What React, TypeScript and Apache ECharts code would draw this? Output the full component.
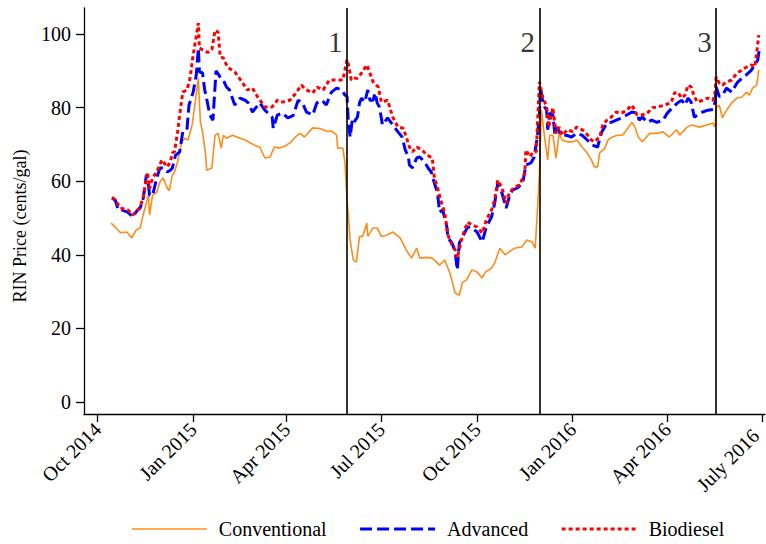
import React, { useEffect, useRef } from 'react';
import * as echarts from 'echarts';

const FONT = '"Liberation Serif", "Times New Roman", serif';
const ORANGE = '#FF8C1A';
const BLUE = '#0000FF';
const RED = '#FF0000';

const X_MIN = '2014-09-18';
const X_MAX = '2016-07-04';
const Y_MIN = -3.26;
const Y_MAX = 107.07;
const yTicks = [0, 20, 40, 60, 80, 100];
const xTickDates = ['2014-10-01', '2015-01-01', '2015-04-01', '2015-07-01', '2015-10-01', '2016-01-01', '2016-04-01', '2016-07-01'];
const xTickLabels = ['Oct 2014', 'Jan 2015', 'Apr 2015', 'Jul 2015', 'Oct 2015', 'Jan 2016', 'Apr 2016', 'July 2016'];
const eventDates = ['2015-05-29', '2015-11-30', '2016-05-18'];
const eventLabels = ['1', '2', '3'];
const EVENT_LABEL_Y = 97.8;
const seriesNames = ['Conventional', 'Advanced', 'Biodiesel'];

const conventional: [string, number][] = [
  ['2014-10-14', 48.6], ['2014-10-19', 47.3], ['2014-10-23', 46.0], ['2014-10-29', 46.2], ['2014-11-03', 44.6],
  ['2014-11-07', 46.7], ['2014-11-11', 47.3], ['2014-11-14', 51], ['2014-11-17', 54], ['2014-11-19', 56.2],
  ['2014-11-20', 50.8], ['2014-11-23', 56.2], ['2014-11-27', 57], ['2014-11-30', 59.8], ['2014-12-03', 60.9],
  ['2014-12-07', 58.2], ['2014-12-09', 57.4], ['2014-12-12', 61.7], ['2014-12-14', 62.5], ['2014-12-17', 65.2],
  ['2014-12-21', 70.7], ['2014-12-24', 71.7], ['2014-12-27', 71.2], ['2014-12-31', 75.3], ['2015-01-03', 81.5],
  ['2015-01-05', 86], ['2015-01-06', 88], ['2015-01-07', 81.5], ['2015-01-08', 76], ['2015-01-10', 73.4],
  ['2015-01-13', 67], ['2015-01-14', 63], ['2015-01-19', 63.6], ['2015-01-22', 72.5], ['2015-01-25', 73],
  ['2015-01-28', 69], ['2015-01-30', 72.5], ['2015-02-02', 71.7], ['2015-02-08', 72.5], ['2015-02-15', 71.7],
  ['2015-02-20', 71.2], ['2015-02-25', 70.4], ['2015-03-01', 69.8], ['2015-03-06', 69.3], ['2015-03-11', 66.3],
  ['2015-03-16', 66.6], ['2015-03-20', 69.3], ['2015-03-25', 69], ['2015-03-30', 69.5], ['2015-04-04', 70.4],
  ['2015-04-11', 72.5], ['2015-04-14', 73], ['2015-04-18', 72], ['2015-04-26', 74.5], ['2015-05-03', 74.3],
  ['2015-05-10', 73.5], ['2015-05-14', 73.7], ['2015-05-19', 72.5], ['2015-05-20', 69], ['2015-05-25', 69],
  ['2015-05-27', 65], ['2015-05-29', 55], ['2015-06-01', 44], ['2015-06-04', 38.6], ['2015-06-07', 38],
  ['2015-06-10', 45], ['2015-06-13', 45], ['2015-06-17', 48.6], ['2015-06-18', 45], ['2015-06-23', 47.3],
  ['2015-06-27', 47.3], ['2015-07-01', 45], ['2015-07-06', 45.3], ['2015-07-12', 46.2], ['2015-07-19', 44.6],
  ['2015-07-25', 41.3], ['2015-07-30', 39.1], ['2015-08-04', 41.8], ['2015-08-07', 39.1], ['2015-08-14', 39.3],
  ['2015-08-19', 39.1], ['2015-08-26', 37.2], ['2015-08-31', 38.6], ['2015-09-05', 35], ['2015-09-10', 29.6],
  ['2015-09-14', 29], ['2015-09-17', 32.5], ['2015-09-21', 33.2], ['2015-09-26', 35.9], ['2015-10-01', 35.3],
  ['2015-10-06', 33.7], ['2015-10-09', 35.3], ['2015-10-15', 36.4], ['2015-10-18', 37.8], ['2015-10-23', 41.8],
  ['2015-10-28', 40], ['2015-11-01', 40.8], ['2015-11-06', 41.8], ['2015-11-13', 42.1], ['2015-11-18', 44],
  ['2015-11-23', 43.5], ['2015-11-26', 41.8], ['2015-11-28', 51.4], ['2015-11-30', 62], ['2015-12-02', 79.3],
  ['2015-12-05', 72], ['2015-12-08', 65.8], ['2015-12-10', 72.5], ['2015-12-13', 72.5], ['2015-12-16', 66.3],
  ['2015-12-19', 73], ['2015-12-22', 71.2], ['2015-12-27', 70.7], ['2016-01-01', 70.7], ['2016-01-05', 71.2],
  ['2016-01-10', 69.3], ['2016-01-15', 67.7], ['2016-01-19', 65.8], ['2016-01-22', 63.9], ['2016-01-25', 63.9],
  ['2016-01-27', 67.7], ['2016-02-01', 69], ['2016-02-04', 71.2], ['2016-02-08', 72], ['2016-02-13', 72.5],
  ['2016-02-18', 72.5], ['2016-02-22', 74], ['2016-02-27', 76], ['2016-03-01', 74.7], ['2016-03-04', 72],
  ['2016-03-08', 70.7], ['2016-03-12', 72], ['2016-03-15', 73], ['2016-03-22', 73], ['2016-03-28', 73.4],
  ['2016-04-03', 72], ['2016-04-10', 74], ['2016-04-13', 72.5], ['2016-04-20', 74.7], ['2016-04-25', 75.3],
  ['2016-05-02', 74.7], ['2016-05-09', 75.3], ['2016-05-15', 75.8], ['2016-05-17', 74.7], ['2016-05-18', 80],
  ['2016-05-21', 80.7], ['2016-05-24', 77.2], ['2016-05-28', 79.3], ['2016-06-02', 81.3], ['2016-06-07', 82.6],
  ['2016-06-12', 82.9], ['2016-06-16', 84.2], ['2016-06-19', 83.4], ['2016-06-22', 85.3], ['2016-06-26', 86.1],
  ['2016-06-28', 90.2],
];

const advanced: [string, number][] = [
  ['2014-10-15', 55.4], ['2014-10-18', 54.9], ['2014-10-21', 52.2], ['2014-10-24', 52.2], ['2014-10-30', 51.6],
  ['2014-11-04', 50.3], ['2014-11-08', 52.0], ['2014-11-11', 52.7], ['2014-11-14', 55.4], ['2014-11-17', 61.7],
  ['2014-11-19', 59], ['2014-11-20', 56.2], ['2014-11-23', 56.2], ['2014-11-27', 60.9], ['2014-11-30', 63.6],
  ['2014-12-03', 63.6], ['2014-12-07', 62.5], ['2014-12-10', 63], ['2014-12-12', 63.6], ['2014-12-15', 67],
  ['2014-12-19', 68], ['2014-12-22', 73.4], ['2014-12-26', 74], ['2014-12-28', 80.7], ['2015-01-01', 84.2],
  ['2015-01-04', 88.9], ['2015-01-06', 96.2], ['2015-01-07', 89.7], ['2015-01-10', 89.4], ['2015-01-12', 85],
  ['2015-01-15', 81], ['2015-01-17', 78], ['2015-01-20', 76.6], ['2015-01-23', 90], ['2015-01-27', 88.3],
  ['2015-01-30', 87.5], ['2015-02-02', 85.6], ['2015-02-05', 84.8], ['2015-02-10', 80.7], ['2015-02-15', 82.6],
  ['2015-02-20', 82], ['2015-02-23', 81.3], ['2015-02-27', 78.8], ['2015-03-06', 81.3], ['2015-03-11', 79.3],
  ['2015-03-18', 77.4], ['2015-03-19', 74.4], ['2015-03-23', 78], ['2015-03-28', 78.5], ['2015-04-02', 77.2],
  ['2015-04-07', 77.8], ['2015-04-12', 82], ['2015-04-16', 81.3], ['2015-04-20', 78.8], ['2015-04-26', 78],
  ['2015-04-30', 81.3], ['2015-05-05', 82], ['2015-05-09', 80.7], ['2015-05-14', 84.2], ['2015-05-19', 85.3],
  ['2015-05-24', 84.8], ['2015-05-27', 83.4], ['2015-05-29', 83], ['2015-05-30', 77.4], ['2015-06-01', 72],
  ['2015-06-03', 76.6], ['2015-06-04', 75.8], ['2015-06-08', 77.4], ['2015-06-10', 81.3], ['2015-06-12', 82.6],
  ['2015-06-15', 81.5], ['2015-06-18', 84.8], ['2015-06-20', 82], ['2015-06-23', 82], ['2015-06-25', 84],
  ['2015-06-27', 81.3], ['2015-06-29', 80.2], ['2015-07-01', 77.2], ['2015-07-02', 75.3], ['2015-07-07', 77.2],
  ['2015-07-12', 75.3], ['2015-07-17', 73.4], ['2015-07-21', 72], ['2015-07-24', 68.5], ['2015-07-27', 66.6],
  ['2015-07-28', 64.4], ['2015-07-31', 63.6], ['2015-08-04', 66.3], ['2015-08-07', 66.6], ['2015-08-12', 65],
  ['2015-08-15', 63.6], ['2015-08-18', 62.5], ['2015-08-21', 59.5], ['2015-08-24', 56.8], ['2015-08-26', 51.6],
  ['2015-08-29', 52.2], ['2015-09-02', 47.6], ['2015-09-03', 44.6], ['2015-09-07', 43.2], ['2015-09-10', 40.8],
  ['2015-09-12', 35.9], ['2015-09-14', 43.2], ['2015-09-17', 44.8], ['2015-09-22', 47.6], ['2015-09-26', 47.3],
  ['2015-10-01', 46.2], ['2015-10-06', 43.5], ['2015-10-10', 47.6], ['2015-10-15', 50.3], ['2015-10-18', 54],
  ['2015-10-21', 59.5], ['2015-10-25', 56.8], ['2015-10-29', 52.7], ['2015-11-01', 55.7], ['2015-11-04', 57.6],
  ['2015-11-09', 58.2], ['2015-11-14', 59.5], ['2015-11-17', 64.4], ['2015-11-22', 65], ['2015-11-25', 66.6],
  ['2015-11-28', 72], ['2015-11-30', 78], ['2015-12-01', 85.6], ['2015-12-03', 82], ['2015-12-05', 80.2],
  ['2015-12-07', 79.3], ['2015-12-08', 74], ['2015-12-10', 78.5], ['2015-12-13', 78], ['2015-12-15', 72.5],
  ['2015-12-17', 74.7], ['2015-12-21', 72.5], ['2015-12-26', 72.5], ['2015-12-31', 72], ['2016-01-05', 73],
  ['2016-01-10', 72.5], ['2016-01-15', 71.2], ['2016-01-20', 69.8], ['2016-01-25', 69.3], ['2016-01-29', 73.4],
  ['2016-02-03', 75.8], ['2016-02-07', 76], ['2016-02-12', 76.6], ['2016-02-17', 77.2], ['2016-02-22', 78],
  ['2016-02-27', 78.8], ['2016-03-03', 78.5], ['2016-03-05', 76.6], ['2016-03-08', 77.4], ['2016-03-13', 76],
  ['2016-03-17', 76.6], ['2016-03-22', 76], ['2016-03-28', 76.6], ['2016-04-01', 78.5], ['2016-04-06', 80],
  ['2016-04-11', 81.3], ['2016-04-15', 82], ['2016-04-18', 80.7], ['2016-04-21', 82.6], ['2016-04-24', 81.5],
  ['2016-04-27', 77.4], ['2016-04-30', 78], ['2016-05-05', 78.8], ['2016-05-10', 79.3], ['2016-05-15', 79.5],
  ['2016-05-17', 81.5], ['2016-05-18', 85.6], ['2016-05-21', 83], ['2016-05-24', 83.4], ['2016-05-28', 85.3],
  ['2016-06-02', 84.2], ['2016-06-07', 86.7], ['2016-06-12', 88], ['2016-06-16', 88.9], ['2016-06-21', 90.2],
  ['2016-06-24', 91.6], ['2016-06-27', 92.9], ['2016-06-29', 96.7],
];

const biodiesel: [string, number][] = [
  ['2014-10-15', 55.7], ['2014-10-18', 54.9], ['2014-10-23', 52.7], ['2014-10-30', 52.2], ['2014-11-04', 50.8],
  ['2014-11-11', 53], ['2014-11-14', 55.7], ['2014-11-18', 62.5], ['2014-11-20', 58], ['2014-11-23', 60.9],
  ['2014-11-27', 62.5], ['2014-12-02', 65.8], ['2014-12-07', 63.9], ['2014-12-10', 65.2], ['2014-12-12', 67.7],
  ['2014-12-14', 68], ['2014-12-17', 73.4], ['2014-12-19', 78], ['2014-12-22', 84.2], ['2014-12-26', 84.8],
  ['2014-12-29', 88], ['2015-01-01', 94.3], ['2015-01-06', 103], ['2015-01-07', 96.2], ['2015-01-10', 95.7],
  ['2015-01-15', 95], ['2015-01-19', 95.7], ['2015-01-22', 101], ['2015-01-25', 100.5], ['2015-01-27', 93.8],
  ['2015-01-30', 93.5], ['2015-02-03', 91], ['2015-02-10', 89.7], ['2015-02-17', 87], ['2015-02-22', 84.8],
  ['2015-02-27', 85.3], ['2015-03-04', 82.9], ['2015-03-11', 80.2], ['2015-03-18', 80.2], ['2015-03-23', 82],
  ['2015-03-28', 81.5], ['2015-04-04', 82], ['2015-04-10', 84], ['2015-04-15', 86.1], ['2015-04-20', 84.8],
  ['2015-04-26', 84], ['2015-04-30', 85.6], ['2015-05-06', 84.8], ['2015-05-12', 87.5], ['2015-05-19', 87.5],
  ['2015-05-25', 87.5], ['2015-05-29', 93], ['2015-05-31', 91], ['2015-06-02', 87.5], ['2015-06-05', 88],
  ['2015-06-08', 88], ['2015-06-12', 89.4], ['2015-06-17', 91.6], ['2015-06-20', 89.4], ['2015-06-23', 87],
  ['2015-06-28', 85.6], ['2015-07-01', 81.5], ['2015-07-07', 82], ['2015-07-12', 77.4], ['2015-07-17', 74.7],
  ['2015-07-22', 74.4], ['2015-07-25', 72], ['2015-07-28', 69.3], ['2015-07-31', 68], ['2015-08-04', 69.3],
  ['2015-08-09', 68.5], ['2015-08-14', 67.1], ['2015-08-19', 66.3], ['2015-08-21', 60.9], ['2015-08-24', 58.2],
  ['2015-08-28', 54], ['2015-08-31', 51.4], ['2015-09-03', 45.4], ['2015-09-07', 42.7], ['2015-09-10', 41.3],
  ['2015-09-12', 39.1], ['2015-09-16', 44], ['2015-09-19', 46.7], ['2015-09-22', 48.9], ['2015-09-26', 48.1],
  ['2015-10-01', 47.6], ['2015-10-06', 45.9], ['2015-10-10', 49.5], ['2015-10-15', 52.2], ['2015-10-18', 54.9],
  ['2015-10-21', 60.3], ['2015-10-25', 58.2], ['2015-10-29', 54], ['2015-11-01', 56.8], ['2015-11-06', 58.4],
  ['2015-11-11', 59], ['2015-11-16', 62.2], ['2015-11-17', 68.5], ['2015-11-21', 66.6], ['2015-11-24', 68],
  ['2015-11-27', 68], ['2015-11-30', 87], ['2015-12-03', 83], ['2015-12-07', 80.2], ['2015-12-09', 74.7],
  ['2015-12-13', 80], ['2015-12-16', 73], ['2015-12-19', 74.7], ['2015-12-22', 72.5], ['2015-12-27', 74],
  ['2016-01-01', 73.5], ['2016-01-05', 74.7], ['2016-01-10', 74], ['2016-01-13', 73.4], ['2016-01-19', 71.2],
  ['2016-01-22', 70.7], ['2016-01-27', 72], ['2016-01-30', 75.3], ['2016-02-03', 76.6], ['2016-02-07', 77.4],
  ['2016-02-12', 78.8], ['2016-02-17', 78.5], ['2016-02-22', 79.3], ['2016-02-27', 80.7], ['2016-03-03', 78],
  ['2016-03-07', 78], ['2016-03-12', 78.3], ['2016-03-18', 80], ['2016-03-23', 80.2], ['2016-03-30', 80.7],
  ['2016-04-05', 81.5], ['2016-04-08', 84], ['2016-04-11', 84.2], ['2016-04-15', 82.6], ['2016-04-18', 83.4],
  ['2016-04-21', 86.1], ['2016-04-24', 85.6], ['2016-04-27', 83], ['2016-04-30', 81.5], ['2016-05-05', 82],
  ['2016-05-10', 82.6], ['2016-05-15', 82], ['2016-05-17', 84.2], ['2016-05-18', 88.3], ['2016-05-21', 86.7],
  ['2016-05-24', 86.1], ['2016-05-28', 87], ['2016-06-02', 87.5], ['2016-06-07', 89.4], ['2016-06-12', 90.2],
  ['2016-06-16', 91], ['2016-06-21', 91.6], ['2016-06-24', 91], ['2016-06-26', 94.8], ['2016-06-28', 99.7],
];

const ts = (s: string) => {
  const [y, m, d] = s.split('-').map(Number);
  return Date.UTC(y, m - 1, d);
};
const toSeries = (arr: [string, number][]) => arr.map(([d, v]) => [ts(d), v]);

export default function App() {
  const ref = useRef<HTMLDivElement>(null);
  useEffect(() => {
    if (!ref.current) return;
    const chart = echarts.init(ref.current, null, { renderer: 'svg' });
    const xTickValues = xTickDates.map(ts);
    const styles = [
      { color: ORANGE, width: 1.6, type: 'solid' as any },
      { color: BLUE, width: 3, type: [12, 5] as any },
      { color: RED, width: 3, type: [4, 3] as any },
    ];
    chart.setOption({
      animation: false,
      backgroundColor: '#fff',
      textStyle: { fontFamily: FONT, color: '#000' },
      grid: { left: 84, right: 1, top: 8, bottom: 130, containLabel: false, outerBoundsMode: 'none' },
      xAxis: {
        type: 'value',
        min: ts(X_MIN),
        max: ts(X_MAX),
        axisLine: { onZero: false, lineStyle: { color: '#000', width: 1.3 } },
        axisTick: { show: true, length: 8, customValues: xTickValues, lineStyle: { color: '#000', width: 1.3 } },
        axisLabel: {
          customValues: xTickValues,
          rotate: 45,
          margin: 12,
          fontSize: 20,
          fontFamily: FONT,
          color: '#000',
          rich: {
            last: { fontSize: 20, fontFamily: FONT, color: '#000', padding: [0, 9, 0, 0] },
          },
          formatter: (v: number) => {
            const i = xTickValues.indexOf(v);
            if (i < 0) return '';
            return i === xTickValues.length - 1 ? `{last|${xTickLabels[i]}}` : xTickLabels[i];
          },
        },
        splitLine: { show: false },
      },
      yAxis: {
        type: 'value',
        min: Y_MIN,
        max: Y_MAX,
        axisLine: { show: true, lineStyle: { color: '#000', width: 1.3 } },
        axisTick: { show: true, length: 8, customValues: yTicks, lineStyle: { color: '#000', width: 1.3 } },
        axisLabel: { customValues: yTicks, margin: 13, fontSize: 20, fontFamily: FONT, color: '#000' },
        splitLine: { show: false },
      },
      legend: {
        left: 126,
        top: 514,
        itemWidth: 75,
        itemHeight: 14,
        itemGap: 32,
        itemStyle: { opacity: 0 },
        data: seriesNames.map((n, i) => ({ name: n, itemStyle: { opacity: 0 }, lineStyle: { ...styles[i] } })),
        textStyle: { fontSize: 20, fontFamily: FONT, color: '#000', padding: [0, 0, 0, 7] },
      },
      graphic: [
        {
          type: 'text',
          x: 20,
          y: 226,
          rotation: Math.PI / 2,
          style: {
            text: 'RIN Price (cents/gal)',
            font: `18px ${FONT}`,
            fill: '#000',
            textAlign: 'center',
            textVerticalAlign: 'middle',
          },
        },
      ],
      series: [
        {
          name: seriesNames[0],
          type: 'line',
          data: toSeries(conventional),
          symbol: 'none',
          lineStyle: styles[0],
          itemStyle: { color: ORANGE },
          z: 2,
        },
        {
          name: seriesNames[1],
          type: 'line',
          data: toSeries(advanced),
          symbol: 'none',
          lineStyle: styles[1],
          itemStyle: { color: BLUE },
          z: 3,
        },
        {
          name: seriesNames[2],
          type: 'line',
          data: toSeries(biodiesel),
          symbol: 'none',
          lineStyle: styles[2],
          itemStyle: { color: RED },
          z: 4,
        },
        {
          name: 'events',
          type: 'scatter',
          silent: true,
          z: 10,
          symbolSize: 1,
          itemStyle: { color: 'rgba(0,0,0,0)' },
          label: { show: true, position: 'left', distance: 4, fontSize: 29, fontFamily: FONT, color: '#000' },
          data: eventDates.map((d, i) => ({ value: [ts(d), EVENT_LABEL_Y], label: { formatter: eventLabels[i] } })),
          markLine: {
            silent: true,
            symbol: ['none', 'none'],
            label: { show: false },
            lineStyle: { color: '#000', width: 1.6, type: 'solid' },
            data: eventDates.map((d) => ({ xAxis: ts(d) })),
          },
        },
      ],
    });
    return () => chart.dispose();
  }, []);
  return (
    <div
      ref={ref}
      style={{ position: 'fixed', left: 0, top: 0, width: 766, height: 544, background: '#fff' }}
    />
  );
}
